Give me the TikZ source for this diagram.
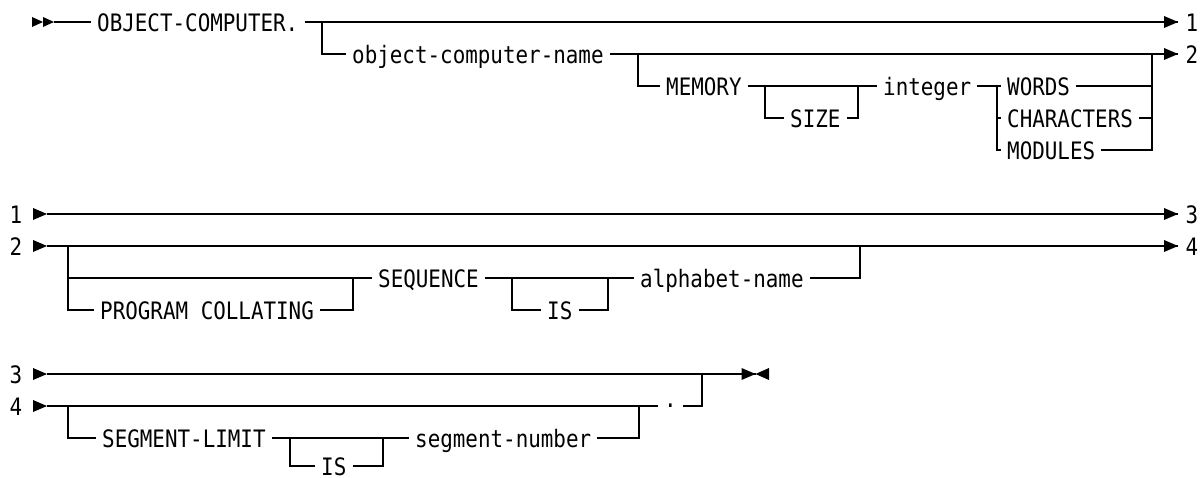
\documentclass[tikz,border=0pt]{standalone}
\usepackage{fontspec}
\newfontfamily\rrfont[FakeStretch=0.87]{DejaVu Sans Mono}
\usetikzlibrary{arrows.meta}
\tikzset{
  track/.style={line width=1.5pt, line join=miter},
  word/.style={font=\rrfont\fontsize{24}{28}\selectfont, inner xsep=6pt, inner ysep=0pt,
    text height=19.5pt, text depth=0pt, anchor=west},
  num/.style={font=\rrfont\fontsize{24}{28}\selectfont, inner sep=0pt,
    text height=19.5pt, text depth=0pt},
  pics/headR/.style={code={\fill (0,0) -- (-14,-6) -- (-14,6) -- cycle;}},
  pics/headL/.style={code={\fill (0,0) -- (13.5,-6) -- (13.5,6) -- cycle;}},
  pics/headS/.style={code={\fill (0,0) -- (-11,-5) -- (-11,5) -- cycle;}},
}
\begin{document}
\begin{tikzpicture}[x=1pt,y=-1pt]
\useasboundingbox (0,0) rectangle (1202,478);

% ---- OBJECT-COMPUTER. [object-computer-name [MEMORY [SIZE] integer WORDS|CHARACTERS|MODULES]]
\coordinate (s1) at (54,22);
\pic at (43,22) {headS};
\pic at (s1) {headS};
\node[word] (oc) at (91,22) {OBJECT-COMPUTER.};
\draw[track] (s1) -- (oc.west);
\coordinate (e1) at (1178,22);
\node[num] (x1) at (1192,22) {1};
\draw[track] (oc.east) -- (e1);
\pic at (e1) {headR};

\coordinate (j1) at (322,22);
\node[word] (ocn) at (346,54) {object-computer-name};
\draw[track] (j1) |- (ocn.west);
\coordinate (e2) at (1178,54);
\node[num] (x2) at (1192,54) {2};
\draw[track] (ocn.east) -- (e2);
\pic at (e2) {headR};

\coordinate (j2) at (638,54);
\node[word] (mem) at (660,86) {MEMORY};
\draw[track] (j2) |- (mem.west);
\node[word] (int) at (877,86) {integer};
\draw[track] (mem.east) -- (int.west);

\coordinate (j3) at (765,86);
\coordinate (j4) at (858,86);
\node[word] (size) at (784,118) {SIZE};
\draw[track] (j3) |- (size.west);
\draw[track] (size.east) -| (j4);

\coordinate (j5) at (997,86);
\node[word] (wds) at (1001,86) {WORDS};
\node[word] (chr) at (1001,118) {CHARACTERS};
\node[word] (mod) at (1001,150) {MODULES};
\draw[track] (int.east) -- (wds.west);
\draw[track] (j5) |- (chr.west);
\draw[track] (j5) |- (mod.west);
\coordinate (j6) at (1152,54);
\draw[track] (wds.east) -- (wds.east -| j6);
\draw[track] (chr.east) -- (chr.east -| j6);
\draw[track] (mod.east) -| (j6);

% ---- [[PROGRAM COLLATING] SEQUENCE [IS] alphabet-name]
\node[num] (y1) at (16,214) {1};
\coordinate (t1) at (47,214);
\pic at (t1) {headR};
\coordinate (e3) at (1178,214);
\node[num] (x3) at (1192,214) {3};
\draw[track] (t1) -- (e3);
\pic at (e3) {headR};

\node[num] (y2) at (16,246) {2};
\coordinate (t2) at (47,246);
\pic at (t2) {headR};
\coordinate (e4) at (1178,246);
\node[num] (x4) at (1192,246) {4};
\draw[track] (t2) -- (e4);
\pic at (e4) {headR};

\coordinate (j7) at (68,246);
\node[word] (pc) at (94,310) {PROGRAM COLLATING};
\node[word] (seq) at (372,278) {SEQUENCE};
\draw[track] (j7) |- (seq.west);
\draw[track] (j7) |- (pc.west);
\coordinate (j8) at (353,278);
\draw[track] (pc.east) -| (j8);

\coordinate (j9) at (512,278);
\coordinate (j9b) at (608,278);
\node[word] (is1) at (541,310) {IS};
\draw[track] (j9) |- (is1.west);
\draw[track] (is1.east) -| (j9b);
\node[word] (alp) at (634,278) {alphabet-name};
\draw[track] (seq.east) -- (alp.west);
\coordinate (j10) at (860,246);
\draw[track] (alp.east) -| (j10);

% ---- [SEGMENT-LIMIT [IS] segment-number] .
\node[num] (y3) at (16,374) {3};
\coordinate (t3) at (47,374);
\pic at (t3) {headR};
\coordinate (stop) at (755.5,374);
\draw[track] (t3) -- (stop);
\pic at (stop) {headR};
\pic at (stop) {headL};

\node[num] (y4) at (16,406) {4};
\coordinate (t4) at (47,406);
\pic at (t4) {headR};
\node[word] (dot) at (658,406) {\raisebox{8.5pt}{.}};
\draw[track] (t4) -- (dot.west);
\coordinate (j11) at (702,374);
\draw[track] (dot.east) -| (j11);

\coordinate (j12) at (68,406);
\node[word] (sl) at (96,438) {SEGMENT-LIMIT};
\draw[track] (j12) |- (sl.west);
\node[word] (sn) at (409,438) {segment-number};
\draw[track] (sl.east) -- (sn.west);
\coordinate (j13) at (290,438);
\coordinate (j13b) at (383,438);
\node[word] (is2) at (315,466) {IS};
\draw[track] (j13) |- (is2.west);
\draw[track] (is2.east) -| (j13b);
\coordinate (j14) at (639,406);
\draw[track] (sn.east) -| (j14);
\end{tikzpicture}
\end{document}
